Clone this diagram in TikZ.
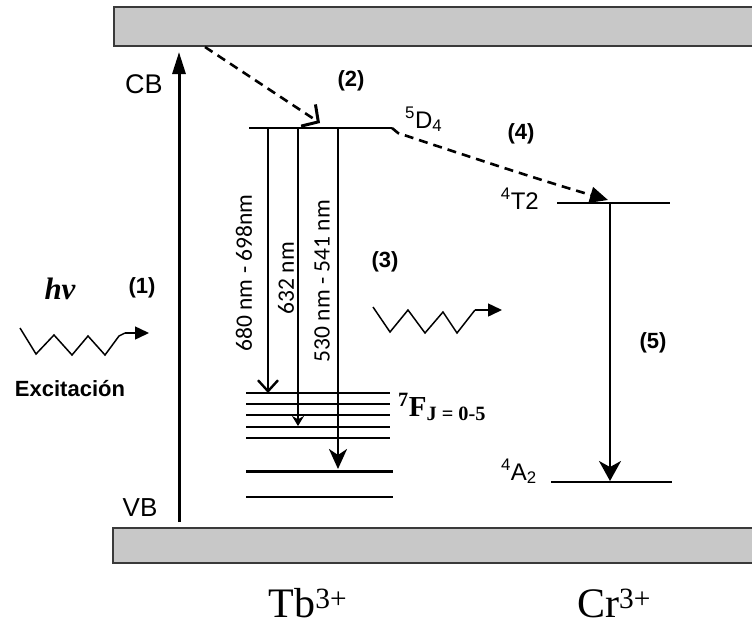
\documentclass[tikz,border=0pt]{standalone}
\usepackage{fontspec}
\setmainfont{Liberation Serif}
\setsansfont{Liberation Sans}
\newfontfamily\calib{Carlito}
\usetikzlibrary{arrows.meta}
\definecolor{barfill}{HTML}{C8C8C8}
\definecolor{barline}{HTML}{3A3A3A}
\begin{document}
\begin{tikzpicture}[x=1pt,y=-1pt,
  bar/.style={draw=barline,fill=barfill,line width=1.5pt},
  lvl/.style={line width=2.6pt},
  thinlvl/.style={line width=1.5pt},
  lbl/.style={font=\sffamily\fontsize{24}{24}\selectfont,inner sep=0pt},
  num/.style={font=\sffamily\bfseries\fontsize{22}{22}\selectfont,inner sep=0pt},
  wl/.style={font=\calib\fontsize{23.5}{23.5}\selectfont,rotate=90,inner sep=0pt},
  ion/.style={font=\fontsize{42}{42}\selectfont,inner sep=0pt},
  trans/.style={line width=2.2pt},
  dsh/.style={line width=2.6pt,dash pattern=on 9pt off 6pt},
  wave/.style={line width=1.5pt}]
\path[use as bounding box] (0,0) rectangle (752,627);
% bands
\draw[bar] (114,7) rectangle (770,46);
\draw[bar] (113,528) rectangle (770,563);
\coordinate (cbb) at (205,47);
% band gap arrow
\coordinate (vbt) at (179,522);
\coordinate (cbt) at (179,52);
\draw[line width=3pt,-{Triangle[length=22pt,width=13pt]}] (vbt) -- (cbt);
\node[lbl,font=\sffamily\fontsize{27}{27}\selectfont] (cbl) at (144,84) {CB};
\node[lbl,font=\sffamily\fontsize{26}{26}\selectfont] (vbl) at (140,508) {VB};
% Tb levels
\coordinate (d4a) at (249,128); \coordinate (d4b) at (392,128);
\draw[lvl] (d4a) -- (d4b);
\coordinate (f1a) at (246,393); \coordinate (f1b) at (390,393);
\coordinate (f2a) at (246,404); \coordinate (f2b) at (390,404);
\coordinate (f3a) at (246,415); \coordinate (f3b) at (390,415);
\coordinate (f4a) at (246,427); \coordinate (f4b) at (390,427);
\coordinate (f5a) at (246,438); \coordinate (f5b) at (390,438);
\coordinate (f6a) at (246,471); \coordinate (f6b) at (393,471);
\coordinate (f7a) at (246,497); \coordinate (f7b) at (393,497);
\draw[line width=1.8pt] (f1a) -- (f1b);
\draw[thinlvl] (f2a) -- (f2b);
\draw[line width=2pt] (f3a) -- (f3b);
\draw[line width=2pt] (f4a) -- (f4b);
\draw[line width=1.2pt] (f5a) -- (f5b);
\draw[line width=3pt] (f6a) -- (f6b);
\draw[line width=2pt] (f7a) -- (f7b);
% transitions
\coordinate (t1s) at (268,128); \coordinate (t1e) at (268,393);
\coordinate (t2s) at (298,128); \coordinate (t2e) at (298,426);
\coordinate (t3s) at (338,128); \coordinate (t3e) at (338,469);
\draw[trans,-{Straight Barb[length=11pt,width=20pt,line width=2.4pt]}] (t1s) -- (t1e);
\draw[line width=2.6pt,-{Stealth[length=10pt,width=12pt]}] (t2s) -- (t2e);
\draw[line width=2.8pt,-{Stealth[length=20pt,width=18pt,inset=6pt]}] (t3s) -- (t3e);
\node[wl] (w1) at (244,273) {680 nm - 698nm};
\node[wl] (w2) at (286,278) {632 nm};
\node[wl] (w3) at (322,281) {530 nm - 541 nm};
% Cr levels
\coordinate (t2a) at (557,203); \coordinate (t2b) at (670,203);
\coordinate (a2a) at (551,482); \coordinate (a2b) at (672,482);
\draw[lvl] (t2a) -- (t2b);
\draw[lvl] (a2a) -- (a2b);
\coordinate (c5s) at (610,203); \coordinate (c5e) at (610,481);
\draw[line width=2.2pt,-{Stealth[length=20pt,width=22pt,inset=6pt]}] (c5s) -- (c5e);
% energy transfer
\coordinate (d2e) at (320,123);
\draw[dsh,-{Straight Barb[length=12pt,width=26pt,line width=3pt]}] (cbb) -- (d2e);
\coordinate (d4e) at (608,200);
\draw[dsh,-{Triangle[length=18pt,width=16pt]}] (d4b) -- (398,133) .. controls (470,157) and (540,180) .. (d4e);
% level labels
\node[lbl,anchor=base west] (d4l) at (405,128) {\textsuperscript{5}D\textsubscript{4}};
\node[lbl,anchor=base east] (t2l) at (539,209) {\textsuperscript{4}T2};
\node[lbl,anchor=base east] (a2l) at (537,480) {\textsuperscript{4}A\textsubscript{2}};
\node[anchor=base west,inner sep=0pt,font=\bfseries\fontsize{29}{29}\selectfont] (fjl) at (398,416) {\textsuperscript{7}F\textsubscript{J = 0-5}};
% step numbers
\node[num] (n1) at (142,288) {(1)};
\node[num] (n2) at (351,81) {(2)};
\node[num] (n3) at (385,262) {(3)};
\node[num] (n4) at (521,134) {(4)};
\node[num] (n5) at (653,343) {(5)};
% excitation wave
\coordinate (e0) at (20,328);
\coordinate (e1) at (125,333);
\coordinate (e2) at (149,333);
\draw[wave] (e0) -- (36,354) -- (54,335) -- (72,355) -- (88,336) -- (105,355) -- (119,336) -- (e1);
\draw[wave,-{Triangle[length=14pt,width=13pt]}] (e1) -- (e2);
\node[inner sep=0pt,font=\bfseries\itshape\fontsize{31}{31}\selectfont] (hv) at (60,289) {hν};
\node[inner sep=0pt,font=\sffamily\bfseries\fontsize{22}{22}\selectfont] (exc) at (70,389) {Excitación};
% emission wave
\coordinate (m0) at (373,307);
\coordinate (m1) at (475,310);
\coordinate (m2) at (502,310);
\draw[wave] (m0) -- (390,332) -- (408,310) -- (425,333) -- (443,312) -- (457,333) -- (m1);
\draw[wave,-{Triangle[length=14pt,width=13pt]}] (m1) -- (m2);
% ions
\node[ion] (tb) at (308,603) {Tb\textsuperscript{3+}};
\node[ion] (cr) at (614,603) {Cr\textsuperscript{3+}};
\end{tikzpicture}
\end{document}
